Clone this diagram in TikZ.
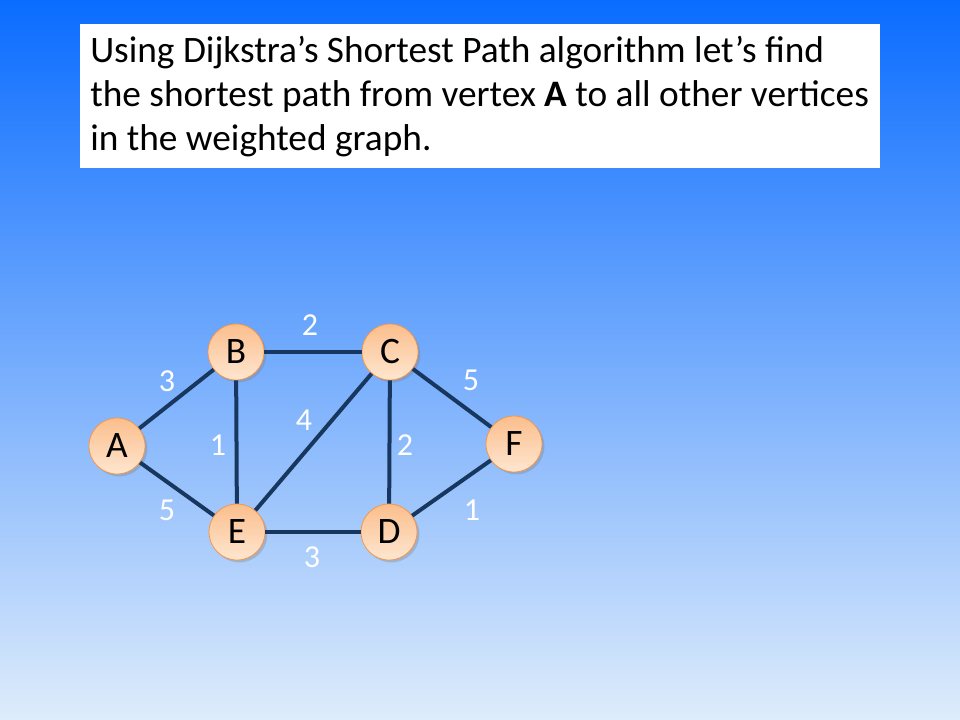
\documentclass[tikz,border=0pt]{standalone}
\usepackage{fontspec}
\setmainfont{Carlito}
\usetikzlibrary{shadows}
\definecolor{edgeblue}{RGB}{23,55,94}
\definecolor{nodeline}{RGB}{247,150,70}
\definecolor{nodetop}{RGB}{251,190,140}
\definecolor{nodebot}{RGB}{254,230,208}
\definecolor{bgtop}{RGB}{10,108,255}
\definecolor{bgbot}{RGB}{222,236,251}
\tikzset{
	vertex/.style={circle, minimum size=42pt, inner sep=0pt, draw=nodeline, line width=0.6pt,
		top color=nodetop, bottom color=nodebot,
		drop shadow={shadow xshift=1.8pt, shadow yshift=-1.8pt, opacity=0.35},
		font=\fontsize{28}{28}\selectfont},
	weight/.style={text=white, font=\fontsize{24}{24}\selectfont, inner sep=0pt},
	edge/.style={draw=edgeblue, line width=3pt}
}
\begin{document}
\begin{tikzpicture}[x=0.75pt,y=-0.75pt]
\shade[top color=bgtop, bottom color=bgbot] (0,0) rectangle (960,720);
\useasboundingbox (0,0) rectangle (960,720);
\fill[white] (80,24) rectangle (880,168);
\node[anchor=north west, align=left, inner sep=0pt, font=\fontsize{28}{33}\selectfont] (title) at (90,36)
	{Using Dijkstra’s Shortest Path algorithm let’s find\\the shortest path from vertex \textbf{A} to all other vertices\\in the weighted graph.};
\coordinate[] (pA) at (117,446);
\coordinate[] (pB) at (236,352);
\coordinate[] (pC) at (390,352);
\coordinate[] (pD) at (389,532);
\coordinate[] (pE) at (237,532);
\coordinate[] (pF) at (514,444);
\foreach \p in {A,B,C,D,E,F}
	\node[vertex] (\p) at (p\p) {\p};
\foreach \u/\v in {A/B,A/E,B/C,B/E,C/E,C/D,C/F,E/D,D/F}
	\draw[edge] (\u) -- (\v);
\foreach \u/\v/\w/\x/\y in {A/B/3/167/381,B/C/2/310/325,C/F/5/471/380,C/E/4/304/420,B/E/1/218/445,C/D/2/405/445,A/E/5/167/510,D/F/1/472/510,E/D/3/312/557}
	\node[weight] (w\u\v) at (\x,\y) {\w};
\end{tikzpicture}
\end{document}
